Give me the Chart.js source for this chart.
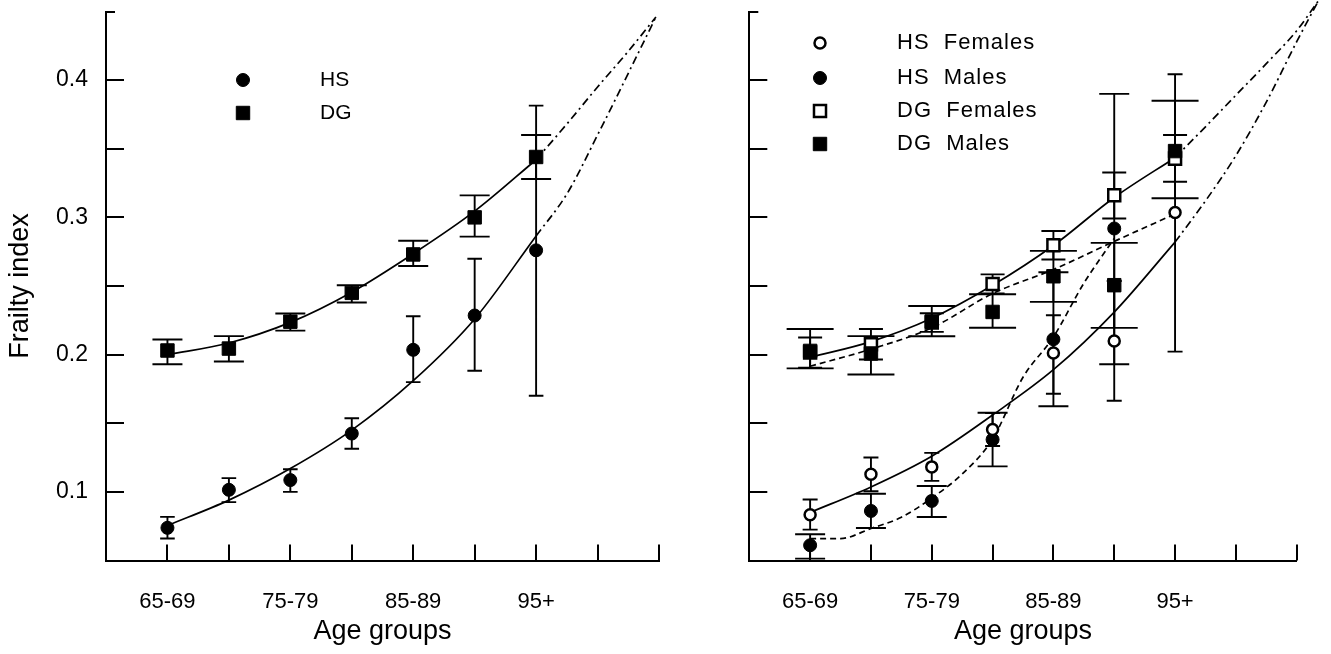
<!DOCTYPE html>
<html><head><meta charset="utf-8">
<script src="https://cdn.jsdelivr.net/npm/chart.js@4.4.1/dist/chart.umd.min.js"></script>
<style>
html,body{margin:0;padding:0;background:#fff;width:1331px;height:654px;overflow:hidden}
.p{position:absolute;top:0}
</style></head><body>
<div class="p" style="left:0px"><canvas id="left" width="670" height="654"></canvas></div>
<div class="p" style="left:670px"><canvas id="right" width="661" height="654"></canvas></div>
<script>
// ---------- DATA ----------
const ageGroups = ['65-69','70-74','75-79','80-84','85-89','90-94','95+'];
const agePos = [1,2,3,4,5,6,7];
const labelledGroups = ['65-69','75-79','85-89','95+'];
const yTickValues = [0.1,0.2,0.3,0.4];

// Left panel: all
const hsValues = [0.0738,0.1015,0.1086,0.1425,0.2035,0.2285,0.2760];
const hsLow    = [0.0660,0.0925,0.1000,0.1314,0.1800,0.1883,0.1700];
const hsHigh   = [0.0818,0.1100,0.1165,0.1536,0.2280,0.2698,0.3814];
const dgValues = [0.2030,0.2044,0.2240,0.2450,0.2730,0.3000,0.3440];
const dgLow    = [0.1930,0.1950,0.2175,0.2380,0.2646,0.2860,0.3280];
const dgHigh   = [0.2110,0.2135,0.2300,0.2506,0.2830,0.3160,0.3600];
// fitted curves (left)
const hsFitX = [1,2,3,4,5,6,7];
const hsFit  = [0.0755,0.0940,0.1170,0.1450,0.1810,0.2260,0.2865];
const hsExtX = [7,7.5,8,8.5,8.95];
const hsExt  = [0.2865,0.3170,0.3600,0.4050,0.4460];
const dgFitX = [1,2,3,4,5,6,7];
const dgFit  = [0.2000,0.2085,0.2235,0.2455,0.2735,0.3045,0.3420];
const dgExtX = [7,7.5,8,8.5,8.95];
const dgExt  = [0.3420,0.3680,0.3950,0.4210,0.4460];

// Right panel: by sex
const hsfValues = [0.0834,0.1128,0.1182,0.1454,0.2012,0.2100,0.3036];
const hsfLow    = [0.0725,0.1005,0.1080,0.1334,0.1715,0.1664,0.2022];
const hsfHigh   = [0.0944,0.1250,0.1284,0.1574,0.2287,0.2536,0.4043];
const hsmPos    = [1,2,3,4,5,6];
const hsmValues = [0.0611,0.0861,0.0934,0.1381,0.2112,0.2919];
const hsmLow    = [0.0514,0.0737,0.0817,0.1186,0.1624,0.1930];
const hsmHigh   = [0.0691,0.0986,0.1043,0.1576,0.2600,0.3900];
const dgfValues = [0.2015,0.2076,0.2234,0.2515,0.2797,0.3162,0.3428];
const dgfLow    = [0.1905,0.1964,0.2166,0.2445,0.2693,0.2992,0.3260];
const dgfHigh   = [0.2125,0.2187,0.2302,0.2585,0.2901,0.3327,0.3600];
const dgmValues = [0.2027,0.2008,0.2242,0.2311,0.2571,0.2506,0.3483];
const dgmLow    = [0.1900,0.1855,0.2134,0.2196,0.2384,0.2195,0.3139];
const dgmHigh   = [0.2187,0.2135,0.2354,0.2440,0.2756,0.2814,0.3850];
// fitted curves (right)
const dgfFitX = [1,2,3,4,5,6,7];
const dgfFit  = [0.1980,0.2095,0.2265,0.2505,0.2795,0.3145,0.3435];
const dgfExtX = [7,7.5,8,8.5,9,9.36];
const dgfExt  = [0.3435,0.3660,0.3890,0.4120,0.4360,0.4580];
const dgmFitX = [1,2,3,4,5,6,7];
const dgmFit  = [0.1915,0.2040,0.2195,0.2445,0.2620,0.2825,0.3025];
const hsfFitX = [1,2,3,4,5,6,7];
const hsfFit  = [0.0850,0.1036,0.1260,0.1560,0.1890,0.2310,0.2820];
const hsfExtX = [7,7.5,8,8.5,9,9.36];
const hsfExt  = [0.2820,0.3120,0.3450,0.3840,0.4280,0.4580];
const hsmFitX = [1,1.5,2,2.5,3,3.5,4,4.5,5,5.5,6];
const hsmFit  = [0.0660,0.0660,0.0733,0.0815,0.0955,0.1130,0.1385,0.1835,0.2129,0.2520,0.2846];

// ---------- RENDERING ----------
const FONT = "'Liberation Sans', Arial, Helvetica, sans-serif";
Chart.defaults.color = '#000';
Chart.defaults.font.family = FONT;

const pts = (xs, ys) => xs.map((x,i) => ({x, y: ys[i]}));

const inwardTicks = {
  id: 'inwardTicks',
  afterDraw(chart) {
    const {ctx, chartArea: a, scales: {x, y}} = chart;
    ctx.save();
    ctx.strokeStyle = '#000'; ctx.lineWidth = 2;
    ctx.beginPath();
    x.ticks.forEach(t => {
      if (t.value <= x.min) return;
      const px = Math.round(x.getPixelForValue(t.value));
      ctx.moveTo(px, a.bottom); ctx.lineTo(px, a.bottom - 16);
    });
    y.ticks.forEach(t => {
      if (t.value <= y.min + 1e-9) return;
      const py = Math.round(y.getPixelForValue(t.value));
      const len = t.value >= y.max - 1e-9 ? 9 : 18;
      ctx.moveTo(a.left, py); ctx.lineTo(a.left + len, py);
    });
    ctx.stroke();
    ctx.restore();
  }
};

const errorBars = {
  id: 'errorBars',
  beforeDatasetsDraw(chart) {
    const {ctx, scales: {x, y}} = chart;
    chart.data.datasets.forEach(ds => {
      if (!ds.errLow) return;
      ctx.save();
      ctx.strokeStyle = '#000'; ctx.lineWidth = 1.9;
      ctx.beginPath();
      ds.data.forEach((p, i) => {
        const px = x.getPixelForValue(p.x);
        const pl = y.getPixelForValue(ds.errLow[i]);
        const ph = y.getPixelForValue(ds.errHigh[i]);
        const c = ds.capHalf;
        ctx.moveTo(px, pl); ctx.lineTo(px, ph);
        ctx.moveTo(px - c, pl); ctx.lineTo(px + c, pl);
        ctx.moveTo(px - c, ph); ctx.lineTo(px + c, ph);
      });
      ctx.stroke();
      ctx.restore();
    });
  }
};

function drawMarker(ctx, style, filled, r, x, y) {
  ctx.save();
  ctx.fillStyle = filled ? '#000' : '#fff';
  ctx.strokeStyle = '#000';
  ctx.lineWidth = filled ? 1 : 2.5;
  ctx.beginPath();
  if (style === 'circle') ctx.arc(x, y, r, 0, Math.PI * 2);
  else { const s = r * Math.SQRT1_2; ctx.rect(x - s, y - s, 2 * s, 2 * s); }
  ctx.fill(); ctx.stroke();
  ctx.restore();
}

const inlineLegend = {
  id: 'inlineLegend',
  afterDraw(chart, args, opts) {
    const {ctx} = chart;
    ctx.save();
    ctx.font = opts.fontSize + 'px ' + FONT;
    if ('letterSpacing' in ctx) ctx.letterSpacing = opts.spacing + 'px';
    ctx.fillStyle = '#000';
    ctx.textBaseline = 'middle';
    ctx.textAlign = 'left';
    opts.order.forEach((label, i) => {
      const ds = chart.data.datasets.find(d => d.label === label);
      const y = opts.rows[i];
      drawMarker(ctx, ds.pointStyle, ds.pointBackgroundColor === '#000', ds.pointRadius, opts.markerX, y);
      ctx.fillText(label, opts.textX, y);
    });
    ctx.restore();
  }
};

function scales(yWidth, showYLabels) {
  return {
    x: {
      type: 'linear', min: 0, max: 9,
      grid: {display: false},
      border: {display: true, color: '#000', width: 2},
      ticks: {
        stepSize: 1, autoSkip: false, maxRotation: 0, padding: 20,
        font: {size: 22, family: FONT}, color: '#000',
        callback: v => {
          const g = ageGroups[agePos.indexOf(v)];
          return g && labelledGroups.includes(g) ? g : '';
        }
      },
      title: {display: true, text: 'Age groups', font: {size: 27, family: FONT}, color: '#000', padding: {top: 0, bottom: 6}},
      afterFit: s => { s.height = 654 - 560.5; s.paddingLeft = 0; s.paddingRight = 0; }
    },
    // hidden twin of x (same 0..9 mapping) so the extrapolated curves can run past the axis end
    x2: {
      type: 'linear', display: false,
      afterDataLimits: s => { s.min = 0; s.max = 9; }
    },
    y: {
      type: 'linear', min: 0.05, max: 0.45,
      grid: {display: false},
      border: {display: true, color: '#000', width: 2},
      ticks: {
        stepSize: 0.05, autoSkip: false, padding: 10, display: showYLabels,
        font: {size: 23, family: FONT}, color: '#000',
        callback: v => yTickValues.some(t => Math.abs(t - v) < 1e-9) ? v.toFixed(1) : ''
      },
      title: {display: showYLabels, text: 'Frailty index', font: {size: 27, family: FONT}, color: '#000', padding: {top: 4, bottom: 0}},
      afterFit: s => { s.width = yWidth; s.paddingTop = 0; s.paddingBottom = 0; }
    }
  };
}

const curve = (label, xs, ys, dash, axis) => ({
  type: 'scatter', label, data: pts(xs, ys), showLine: true, pointRadius: 0,
  borderColor: '#000', borderWidth: 1.7, borderDash: dash || [],
  cubicInterpolationMode: 'monotone', clip: false, order: 10, fill: false,
  xAxisID: axis || 'x'
});
const markers = (label, xs, ys, lo, hi, style, filled, r, cap, order) => ({
  type: 'scatter', label, data: pts(xs, ys), showLine: false,
  pointStyle: style, pointRadius: r, pointHoverRadius: r,
  pointBackgroundColor: filled ? '#000' : '#fff', pointBorderColor: '#000',
  pointBorderWidth: filled ? 1 : 2.5,
  errLow: lo, errHigh: hi, capHalf: cap, order
});

const DASH = [6, 4];
const DASHDOT = [8, 4, 2, 4];

new Chart(document.getElementById('left'), {
  type: 'scatter',
  data: {datasets: [
    curve('HS fit', hsFitX, hsFit),
    curve('HS extrapolation', hsExtX, hsExt, DASHDOT, 'x2'),
    curve('DG fit', dgFitX, dgFit),
    curve('DG extrapolation', dgExtX, dgExt, DASHDOT, 'x2'),
    markers('HS', agePos, hsValues, hsLow, hsHigh, 'circle', true, 6.5, 7.3, 2),
    markers('DG', agePos, dgValues, dgLow, dgHigh, 'rect', true, 9.5, 15, 1)
  ]},
  options: {
    responsive: false, animation: false, events: [], devicePixelRatio: 1,
    layout: {padding: {left: 0, right: 11, top: 11.5, bottom: 0}},
    plugins: {legend: {display: false}, tooltip: {enabled: false},
      inlineLegend: {order: ['HS', 'DG'], rows: [80, 113], markerX: 243, textX: 320, fontSize: 21, spacing: 0}},
    scales: scales(106, true)
  },
  plugins: [errorBars, inwardTicks, inlineLegend]
});

new Chart(document.getElementById('right'), {
  type: 'scatter',
  data: {datasets: [
    curve('DG Females fit', dgfFitX, dgfFit),
    curve('DG Females extrapolation', dgfExtX, dgfExt, DASHDOT, 'x2'),
    curve('DG Males fit', dgmFitX, dgmFit, DASH),
    curve('HS Females fit', hsfFitX, hsfFit),
    curve('HS Females extrapolation', hsfExtX, hsfExt, DASHDOT, 'x2'),
    curve('HS Males fit', hsmFitX, hsmFit, DASH),
    markers('HS  Males', hsmPos, hsmValues, hsmLow, hsmHigh, 'circle', true, 6.5, 15, 4),
    markers('HS  Females', agePos, hsfValues, hsfLow, hsfHigh, 'circle', false, 5.5, 7.5, 3),
    markers('DG  Females', agePos, dgfValues, dgfLow, dgfHigh, 'rect', false, 8.5, 12, 2),
    markers('DG  Males', agePos, dgmValues, dgmLow, dgmHigh, 'rect', true, 9.5, 23.5, 1)
  ]},
  options: {
    responsive: false, animation: false, events: [], devicePixelRatio: 1,
    layout: {padding: {left: 0, right: 34.3, top: 11.5, bottom: 0}},
    plugins: {legend: {display: false}, tooltip: {enabled: false},
      inlineLegend: {order: ['HS  Females', 'HS  Males', 'DG  Females', 'DG  Males'], rows: [43, 78, 111, 144], markerX: 150, textX: 227, fontSize: 22, spacing: 1}},
    scales: scales(79.3, false)
  },
  plugins: [errorBars, inwardTicks, inlineLegend]
});
</script>
</body></html>
